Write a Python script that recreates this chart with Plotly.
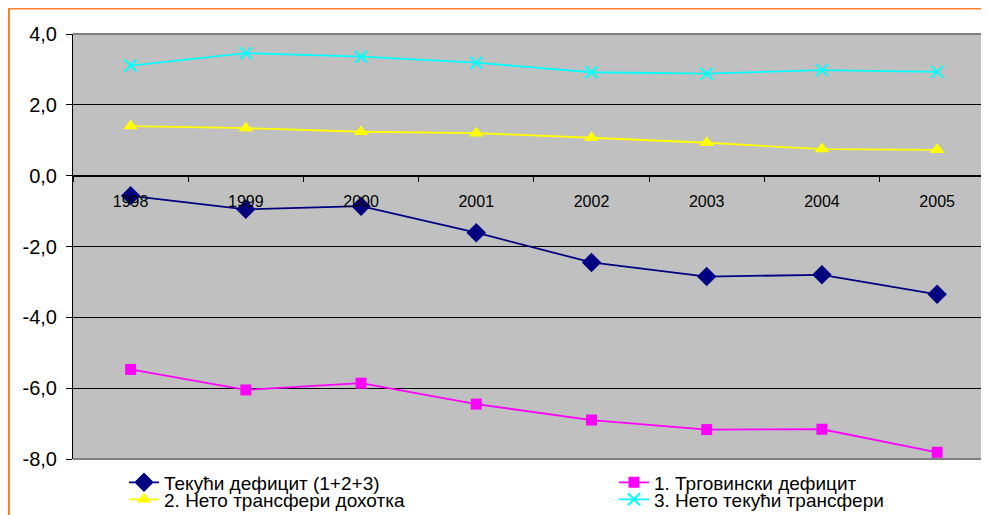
import plotly.graph_objects as go

years = ["1998", "1999", "2000", "2001", "2002", "2003", "2004", "2005"]
current_deficit = [-0.57, -0.95, -0.86, -1.61, -2.45, -2.85, -2.80, -3.35]
trade_deficit = [-5.47, -6.05, -5.86, -6.45, -6.90, -7.17, -7.16, -7.81]
net_income = [1.40, 1.34, 1.24, 1.20, 1.07, 0.93, 0.75, 0.73]
net_current_transfers = [3.11, 3.46, 3.36, 3.19, 2.92, 2.88, 2.98, 2.93]

y_tickvals = [-8, -6, -4, -2, 0, 2, 4]
y_ticktext = ["-8,0", "-6,0", "-4,0", "-2,0", "0,0", "2,0", "4,0"]

FONT = "Liberation Sans, Arial, sans-serif"

fig = go.Figure()
fig.add_trace(go.Scatter(
    x=years, y=current_deficit, name="Текући дефицит (1+2+3)", mode="lines+markers",
    line=dict(color="#000080", width=1.8),
    marker=dict(symbol="diamond", size=15, color="#000080"), legend="legend"))
fig.add_trace(go.Scatter(
    x=years, y=trade_deficit, name="1. Трговински дефицит", mode="lines+markers",
    line=dict(color="#FF00FF", width=1.8),
    marker=dict(symbol="square", size=11, color="#FF00FF"), legend="legend2"))
fig.add_trace(go.Scatter(
    x=years, y=net_income, name="2. Нето трансфери дохотка", mode="lines+markers",
    line=dict(color="#FFFF00", width=1.8),
    marker=dict(symbol="triangle-up", size=13, color="#FFFF00"), legend="legend3"))
fig.add_trace(go.Scatter(
    x=years, y=net_current_transfers, name="3. Нето текући трансфери", mode="lines+markers",
    line=dict(color="#00FFFF", width=1.8),
    marker=dict(symbol="x-thin", size=12, line=dict(color="#00FFFF", width=2)), legend="legend4"))

legend_common = dict(
    orientation="h", xanchor="left", yanchor="middle",
    xref="container", yref="container",
    font=dict(family=FONT, size=19, color="black"),
    bgcolor="rgba(0,0,0,0)", borderwidth=0,
    itemclick=False, itemdoubleclick=False,
)

fig.update_layout(
    width=989, height=515,
    margin=dict(l=65, r=8, t=26, b=64, autoexpand=False),
    paper_bgcolor="white", plot_bgcolor="#C0C0C0",
    font=dict(family=FONT, size=16, color="black"),
    showlegend=True,
    legend=dict(x=0.1173, y=0.0786, **legend_common),
    legend2=dict(x=0.6127, y=0.0786, **legend_common),
    legend3=dict(x=0.1173, y=0.0457, **legend_common),
    legend4=dict(x=0.6127, y=0.0457, **legend_common),
    xaxis=dict(
        type="category", range=[-0.5, 7.45],
        anchor="free", position=2/3,
        showline=True, linecolor="black", linewidth=1,
        ticks="outside", ticklen=5, tickcolor="black", tickson="boundaries",
        showgrid=False, zeroline=False,
        tickfont=dict(family=FONT, size=16, color="black"),
        ticklabelstandoff=11,
    ),
    yaxis=dict(
        range=[-8, 4], tickvals=y_tickvals, ticktext=y_ticktext,
        showline=True, linecolor="black", linewidth=1,
        ticks="outside", ticklen=6, tickcolor="black",
        showgrid=True, gridcolor="black", gridwidth=1, zeroline=False,
        tickfont=dict(family=FONT, size=20, color="black"),
        ticklabelstandoff=5,
    ),
    shapes=[
        dict(type="line", xref="paper", yref="paper", x0=0, x1=1, y0=1, y1=1,
             line=dict(color="#808080", width=2), layer="above"),
        dict(type="line", xref="paper", yref="paper", x0=0, x1=1, y0=0, y1=0,
             line=dict(color="#808080", width=2), layer="above"),
        dict(type="rect", xref="paper", yref="paper", x0=-0.0699, x1=1.05, y0=-0.3, y1=1.0600,
             line=dict(color="#FF7F2A", width=2), fillcolor="rgba(0,0,0,0)", layer="above"),
    ],
)

fig.write_html("out.html")
